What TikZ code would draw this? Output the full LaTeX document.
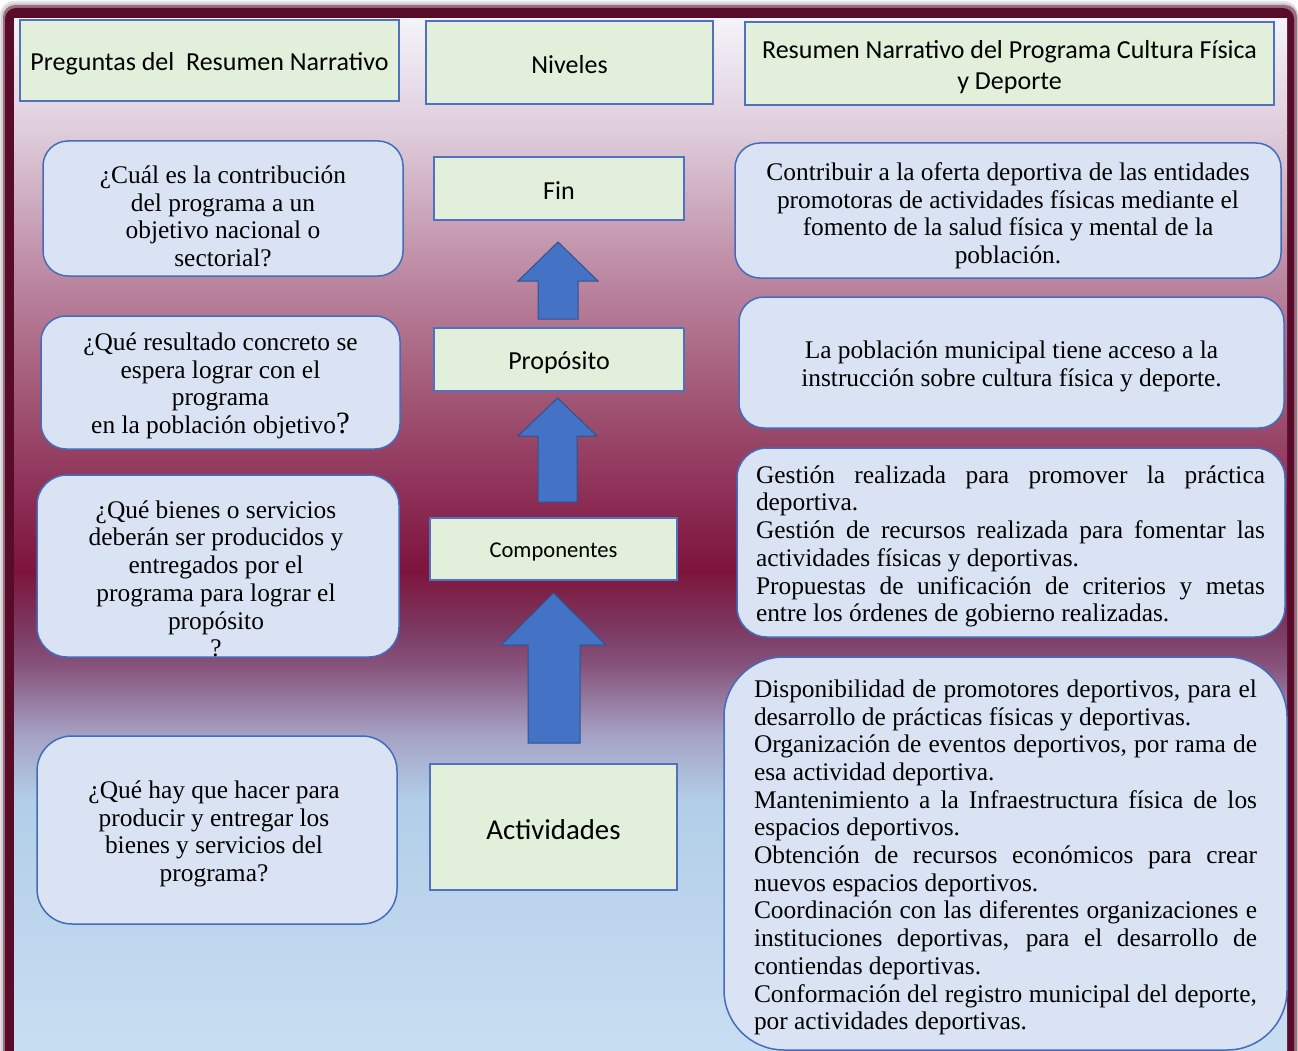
\documentclass[tikz,border=0pt]{standalone}
\usepackage{fontspec}
\setmainfont{Liberation Serif}
\newfontfamily\sansf{Carlito}
\definecolor{hdrgreen}{RGB}{226,239,218}
\definecolor{hdrblue}{RGB}{79,113,190}
\definecolor{qfill}{RGB}{218,227,243}
\definecolor{qborder}{RGB}{68,108,186}
\definecolor{arrowblue}{RGB}{68,114,196}
\definecolor{arrowedge}{RGB}{47,82,143}
\definecolor{framecol}{RGB}{88,12,42}
\definecolor{g0}{RGB}{244,243,250}
\definecolor{g1}{RGB}{222,204,218}
\definecolor{g2}{RGB}{190,140,165}
\definecolor{g3}{RGB}{160,85,115}
\definecolor{g4}{RGB}{140,45,85}
\definecolor{g5}{RGB}{125,20,60}
\definecolor{g6}{RGB}{125,60,100}
\definecolor{g7}{RGB}{135,85,125}
\definecolor{g8}{RGB}{165,160,195}
\definecolor{g9}{RGB}{178,206,232}
\definecolor{g10}{RGB}{200,222,242}
\newcommand{\jlin}[1]{\makebox[\linewidth][s]{#1}\par}
\newcommand{\llin}[1]{\makebox[\linewidth][l]{#1}\par}
\tikzset{
  hdr/.style={draw=hdrblue, line width=1.5pt, fill=hdrgreen, inner sep=0pt, outer sep=0pt},
  htext/.style={font=\sansf\fontsize{26}{31}\selectfont, align=center, inner sep=0pt},
  qbox/.style={draw=qborder, line width=1.5pt, fill=qfill, rounded corners=25pt, inner sep=0pt, outer sep=0pt},
  qtext/.style={font=\fontsize{25.4}{27.7}\selectfont, align=center, inner sep=0pt},
  jtext/.style={font=\fontsize{25.4}{27.7}\selectfont, inner sep=0pt},
  blockarrow/.style={fill=arrowblue, draw=arrowedge, line width=1pt, line join=miter},
}
\begin{document}
\begin{tikzpicture}[x=1pt,y=-1pt]
\useasboundingbox (0,0) rectangle (1298,1051);
% outer shadow and frame
\fill[white] (0,0) rectangle (1298,1051);
\fill[black!10, rounded corners=14pt] (0,1) rectangle (1298,1080);
\fill[black!18, rounded corners=13pt] (1,3) rectangle (1298,1080);
\fill[framecol!60, rounded corners=12pt] (3,5) rectangle (1297,1080);
\fill[framecol, rounded corners=11pt] (5,8) rectangle (1294,1080);
% inner gradient
\shade[top color=g0, bottom color=g1] (14,19) rectangle (1287,133.5);
\shade[top color=g1, bottom color=g2] (14,133) rectangle (1287,267.5);
\shade[top color=g2, bottom color=g3] (14,267) rectangle (1287,400.5);
\shade[top color=g3, bottom color=g4] (14,400) rectangle (1287,500.5);
\shade[top color=g4, bottom color=g5] (14,500) rectangle (1287,570.5);
\shade[top color=g5, bottom color=g6] (14,570) rectangle (1287,633.5);
\shade[top color=g6, bottom color=g7] (14,633) rectangle (1287,667.5);
\shade[top color=g7, bottom color=g8] (14,667) rectangle (1287,733.5);
\shade[top color=g8, bottom color=g9] (14,733) rectangle (1287,800.5);
\shade[top color=g9, bottom color=g10] (14,800) rectangle (1287,1051);

% headers
\node[hdr, minimum width=379pt, minimum height=81pt] (H1) at (209.5,60.5) {};
\node[htext] (H1t) at (209.5,63.5) {Preguntas del\ \ Resumen Narrativo};
\node[hdr, minimum width=287pt, minimum height=83pt] (H2) at (569.5,62.5) {};
\node[htext] (H2t) at (569.5,65) {Niveles};
\node[hdr, minimum width=529pt, minimum height=83pt] (H3) at (1009.5,63.5) {};
\node[htext] (H3t) at (1009.5,67) {Resumen Narrativo del Programa Cultura Física\\y Deporte};

% levels
\node[hdr, minimum width=250pt, minimum height=63pt] (Fin) at (559,188.5) {};
\node[htext] (Fint) at (559,190.5) {Fin};
\node[hdr, minimum width=250pt, minimum height=63pt] (Prop) at (559,359.5) {};
\node[htext] (Propt) at (559,362.5) {Propósito};
\node[hdr, minimum width=247pt, minimum height=62pt] (Comp) at (553.5,549) {};
\node[htext, font=\sansf\fontsize{22.6}{27}\selectfont] (Compt) at (553.5,552) {Componentes};
\node[hdr, minimum width=247pt, minimum height=126pt] (Act) at (553.5,827) {};
\node[htext, font=\sansf\fontsize{28.8}{34}\selectfont] (Actt) at (553.5,830) {Actividades};

% block arrows
\path[blockarrow] (558,242) -- (598,281) -- (578,281) -- (578,319) -- (538,319) -- (538,281) -- (518,281) -- cycle;
\path[blockarrow] (557.5,398) -- (597,436) -- (577,436) -- (577,502) -- (538,502) -- (538,436) -- (518,436) -- cycle;
\path[blockarrow] (553.5,593) -- (606,645) -- (580,645) -- (580,743) -- (528,743) -- (528,645) -- (501,645) -- cycle;

% question boxes
\node[qbox, minimum width=360pt, minimum height=135pt] (L1) at (223,208.5) {};
\node[qtext] (L1t) at (223,219.5) {\strut¿Cuál es la contribución\\del programa a un\\objetivo nacional o\\sectorial?\strut};
\node[qbox, minimum width=359pt, minimum height=133pt] (L2) at (220.5,382.5) {};
\node[qtext] (L2t) at (220.5,386.5) {\strut¿Qué resultado concreto se\\espera lograr con el\\programa\\en la población objetivo{\fontsize{31}{27.7}\selectfont ?}\strut};
\node[qbox, minimum width=362pt, minimum height=182pt, rounded corners=30pt] (L3) at (218,566) {};
\node[qtext] (L3t) at (216,582) {\strut¿Qué bienes o servicios\\deberán ser producidos y\\entregados por el\\programa para lograr el\\propósito\\?\strut};
\node[qbox, minimum width=360pt, minimum height=188pt, rounded corners=35pt] (L4) at (217,830) {};
\node[qtext] (L4t) at (214,834.5) {\strut¿Qué hay que hacer para\\producir y entregar los\\bienes y servicios del\\programa?\strut};

% narrative boxes
\node[qbox, minimum width=546pt, minimum height=135pt] (R1) at (1008,210.5) {};
\node[qtext] (R1t) at (1008,216.5) {\strut Contribuir a la oferta deportiva de las entidades\\promotoras de actividades físicas mediante el\\fomento de la salud física y mental de la\\población.\strut};
\node[qbox, minimum width=545pt, minimum height=131pt] (R2) at (1011.5,362.5) {};
\node[qtext] (R2t) at (1011.5,367) {\strut La población municipal tiene acceso a la\\instrucción sobre cultura física y deporte.\strut};
\node[qbox, minimum width=548pt, minimum height=189pt, rounded corners=30pt] (R3) at (1011,542.5) {};
\node[jtext] (R3t) at (1010.5,547) {\parbox{509pt}{\setlength{\parindent}{0pt}\setlength{\parskip}{0pt}%
\jlin{\strut Gestión realizada para promover la práctica}
\llin{deportiva.}
\jlin{Gestión de recursos realizada para fomentar las}
\llin{actividades físicas y deportivas.}
\jlin{Propuestas de unificación de criterios y metas}
\llin{entre los órdenes de gobierno realizadas.\strut}}};
\node[qbox, minimum width=563pt, minimum height=393pt, rounded corners=60pt] (R4) at (1005.5,853.5) {};
\node[jtext] (R4t) at (1005.5,858) {\parbox{503pt}{\setlength{\parindent}{0pt}\setlength{\parskip}{0pt}%
\jlin{\strut Disponibilidad de promotores deportivos, para el}
\llin{desarrollo de prácticas físicas y deportivas.}
\jlin{Organización de eventos deportivos, por rama de}
\llin{esa actividad deportiva.}
\jlin{Mantenimiento a la Infraestructura física de los}
\llin{espacios deportivos.}
\jlin{Obtención de recursos económicos para crear}
\llin{nuevos espacios deportivos.}
\jlin{Coordinación con las diferentes organizaciones e}
\jlin{instituciones deportivas, para el desarrollo de}
\llin{contiendas deportivas.}
\jlin{Conformación del registro municipal del deporte,}
\llin{por actividades deportivas.\strut}}};
\end{tikzpicture}
\end{document}
